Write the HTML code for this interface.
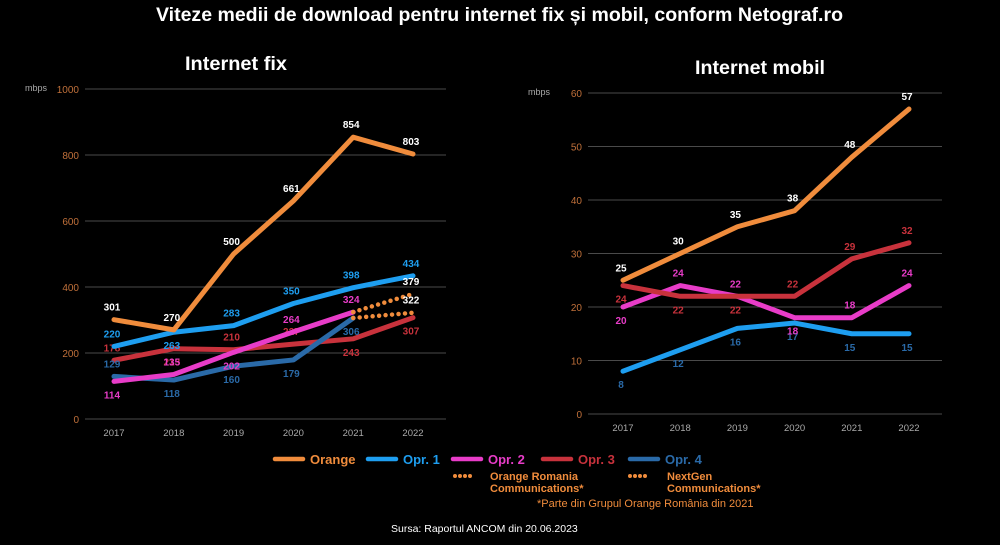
<!DOCTYPE html>
<html><head><meta charset="utf-8"><style>
html,body{margin:0;padding:0;background:#000;}
svg{display:block;font-family:"Liberation Sans",sans-serif;}
</style></head><body>
<svg id="s" width="1000" height="545" viewBox="0 0 1000 545">
<rect width="1000" height="545" fill="#000"/>
<text x="156" y="21" fill="#fff" font-size="19" font-weight="bold" textLength="687" lengthAdjust="spacingAndGlyphs">Viteze medii de download pentru internet fix și mobil, conform Netograf.ro</text>
<text x="185" y="70" fill="#fff" font-size="19" font-weight="bold" textLength="102" lengthAdjust="spacingAndGlyphs">Internet fix</text>
<text x="695" y="74" fill="#fff" font-size="19" font-weight="bold" textLength="130" lengthAdjust="spacingAndGlyphs">Internet mobil</text>
<g id="left"></g>
<g id="right"></g>
<g id="legend"></g>
<text x="537" y="507" fill="#f08c3c" font-size="11">*Parte din Grupul Orange România din 2021</text>
<text x="391" y="532" fill="#fff" font-size="10.5">Sursa: Raportul ANCOM din 20.06.2023</text>
</svg>
<script>
const years=['2017','2018','2019','2020','2021','2022'];
const fixTicks=[0,200,400,600,800,1000];
const mobTicks=[0,10,20,30,40,50,60];
const fixOrange=[301,270,500,661,854,803];
const fixOpr1=[220,263,283,350,398,434];
const fixOpr2=[114,135,202,264,324];
const fixOpr3=[178,213,210,227,243,307];
const fixOpr4=[129,118,160,179,306];
const fixORC=[324,379];
const fixNextGen=[306,322];
const mobOrange=[25,30,35,38,48,57];
const mobOpr3=[24,22,22,22,29,32];
const mobOpr2=[20,24,22,18,18,24];
const mobOpr1=[8,12,16,17,15,15];
const C={orange:'#f08c3c',o1:'#1e9ef0',o2:'#e83cc8',o3:'#c8323c',o4:'#2a6aa8',tick:'#c0703a'};
const NS='http://www.w3.org/2000/svg';
function mk(p,tag,at){const e=document.createElementNS(NS,tag);for(const k in at)e.setAttribute(k,at[k]);p.appendChild(e);return e;}
function chart(g,x0,x1,gx0,gx1,y0,y1,max,ticks){
  const X=i=>x0+(x1-x0)*i/5, Y=v=>y0-(y0-y1)*v/max;
  mk(g,'text',{x:gx0-60,y:y1+2,fill:'#aaa','font-size':9}).textContent='mbps';
  ticks.forEach(t=>{
    const l=mk(g,'line',{x1:gx0,x2:gx1,y1:Y(t),y2:Y(t),stroke:'#4a4a4a','stroke-width':1});
    
    
    const tx=mk(g,'text',{x:gx0-6,y:Y(t)+4,fill:C.tick,'font-size':10,'text-anchor':'end'});
    
    
    tx.textContent=t;
  });
  years.forEach((yv,i)=>{
    const tx=mk(g,'text',{x:X(i),y:y0+17,fill:'#aaa','font-size':9.5,'text-anchor':'middle'});
    
    
    tx.textContent=yv;
  });
  return {X,Y};
}
function series(g,ax,vals,color,name,pos,lblColor,start,dotted){
  start=start||0;
  const pts=vals.map((v,i)=>ax.X(i+start)+','+ax.Y(v)).join(' ');
  const p=mk(g,'polyline',{points:pts,fill:'none',stroke:color,'stroke-width':dotted?4.5:5,'stroke-linejoin':'round','stroke-linecap':'round'});
  if(dotted){p.setAttribute('stroke-dasharray','0 6.5');}
  
  
  vals.forEach((v,i)=>{
    if(!pos[i])return;
    const dy=pos[i]==='a'?-9:17;
    const t=mk(g,'text',{x:ax.X(i+start)-2,y:ax.Y(v)+dy,fill:lblColor||color,'font-size':10,'font-weight':'bold','text-anchor':'middle'});
    
    
    t.textContent=v;
  });
}
const L=document.getElementById('left');
const a=chart(L,114,413,85,446,419,89,1000,fixTicks);
series(L,a,fixOpr3,C.o3,'fixed-opr3',['a','b','a','a','b','b']);
series(L,a,fixOpr4,C.o4,'fixed-opr4',['a','b','b','b','b']);
series(L,a,fixOpr2,C.o2,'fixed-opr2',['b','a','b','a','a']);
series(L,a,fixOpr1,C.o1,'fixed-opr1',['a','b','a','a','a','a']);
series(L,a,fixORC,C.orange,'fixed-orange-romania-comm',[0,'a'],'#fff',4,true);
series(L,a,fixNextGen,C.orange,'fixed-nextgen',[0,'a'],'#fff',4,true);
series(L,a,fixOrange,C.orange,'fixed-orange',['a','a','a','a','a','a'],'#fff');
const R=document.getElementById('right');
const b=chart(R,623,909,588,942,414,93,60,mobTicks);
series(R,b,mobOpr1,C.o1,'mobile-opr1',['b','b','b','b','b','b'],C.o4);
series(R,b,mobOpr2,C.o2,'mobile-opr2',['b','a','a','b','a','a']);
series(R,b,mobOpr3,C.o3,'mobile-opr3',['b','b','b','a','a','a']);
series(R,b,mobOrange,C.orange,'mobile-orange',['a','a','a','a','a','a'],'#fff');
const G=document.getElementById('legend');
const items=[['Orange',C.orange,275],['Opr. 1',C.o1,368],['Opr. 2',C.o2,453],['Opr. 3',C.o3,543],['Opr. 4',C.o4,630]];
items.forEach(it=>{
  const l=mk(G,'line',{x1:it[2],x2:it[2]+28,y1:459,y2:459,stroke:it[1],'stroke-width':4.5,'stroke-linecap':'round'});
  
  
  const t=mk(G,'text',{x:it[2]+35,y:464,fill:it[1],'font-size':13,'font-weight':'bold'});
  
  
  t.textContent=it[0];
});
[[455,490,'Orange Romania','Communications*'],[630,667,'NextGen','Communications*']].forEach(d=>{
  const l=mk(G,'line',{x1:d[0],x2:d[0]+20,y1:476,y2:476,stroke:C.orange,'stroke-width':4,'stroke-linecap':'round','stroke-dasharray':'0 5'});
  
  
  const t1=mk(G,'text',{x:d[1],y:480,fill:C.orange,'font-size':11,'font-weight':'bold'});
  
  
  t1.textContent=d[2];
  const t2=mk(G,'text',{x:d[1],y:492,fill:C.orange,'font-size':11,'font-weight':'bold'});
  
  
  t2.textContent=d[3];
});
</script>
</body></html>
